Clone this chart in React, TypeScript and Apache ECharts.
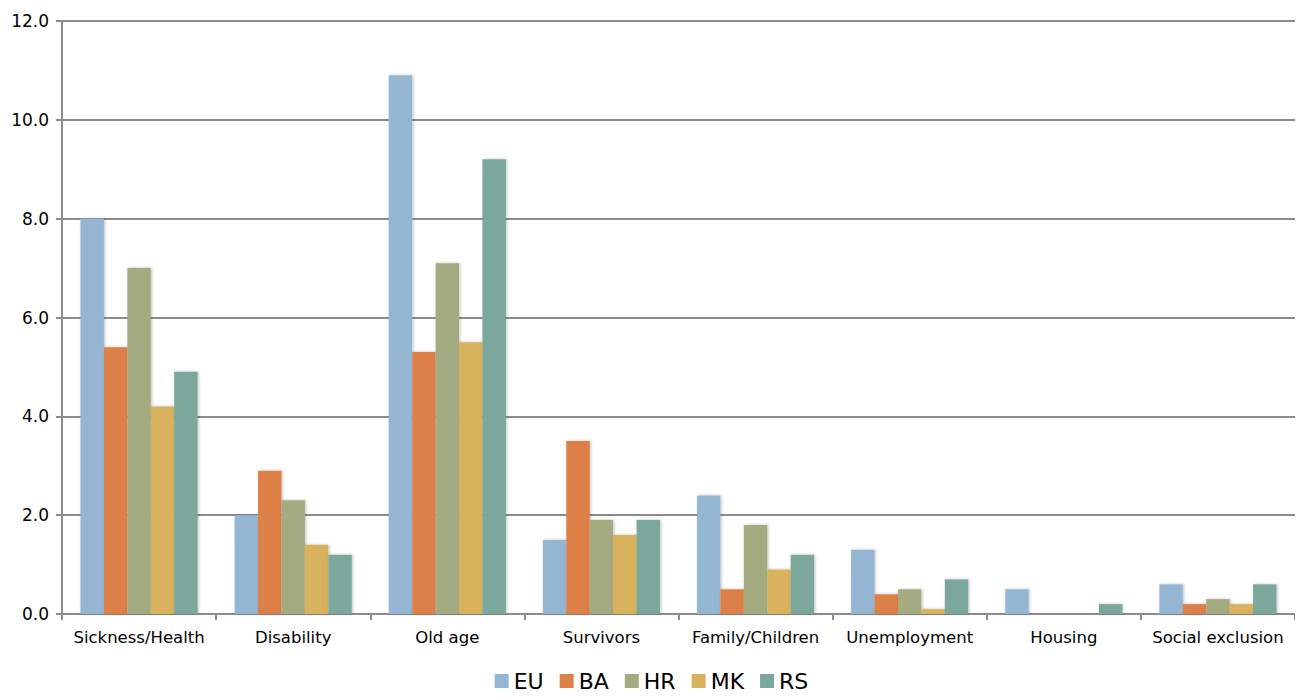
import React, { useEffect, useRef } from "react";
import * as echarts from "echarts";

// Social protection expenditure by function, % of GDP
const categories = [
  "Sickness/Health",
  "Disability",
  "Old age",
  "Survivors",
  "Family/Children",
  "Unemployment",
  "Housing",
  "Social exclusion",
];

const seriesNames = ["EU", "BA", "HR", "MK", "RS"];

const euValues = [8.0, 2.0, 10.9, 1.5, 2.4, 1.3, 0.5, 0.6];
const baValues = [5.4, 2.9, 5.3, 3.5, 0.5, 0.4, 0.0, 0.2];
const hrValues = [7.0, 2.3, 7.1, 1.9, 1.8, 0.5, 0.0, 0.3];
const mkValues = [4.2, 1.4, 5.5, 1.6, 0.9, 0.1, 0.0, 0.2];
const rsValues = [4.9, 1.2, 9.2, 1.9, 1.2, 0.7, 0.2, 0.6];

const colors = ["#94B6D2", "#DD8047", "#A5AB81", "#D8B25C", "#7BA79D"];

const FONT = "'DejaVu Sans', 'Noto Sans', sans-serif";

export default function App() {
  const ref = useRef<HTMLDivElement>(null);

  useEffect(() => {
    if (!ref.current) return;
    const chart = echarts.init(ref.current, undefined, { renderer: "svg" });
    const allValues = [euValues, baValues, hrValues, mkValues, rsValues];

    chart.setOption({
      animation: false,
      color: colors,
      grid: { left: 62, right: 8, top: 21, bottom: 86, containLabel: false },
      legend: {
        bottom: 3,
        left: "center",
        itemWidth: 14,
        itemHeight: 14,
        itemGap: 16,
        icon: "rect",
        textStyle: { fontFamily: FONT, fontSize: 22, color: "#000" },
        data: seriesNames,
      },
      xAxis: {
        type: "category",
        data: categories,
        axisLine: { lineStyle: { color: "#8c8c8c", width: 2 } },
        axisTick: {
          show: true,
          length: 6,
          lineStyle: { color: "#8c8c8c", width: 2 },
        },
        axisLabel: {
          fontFamily: FONT,
          fontSize: 16.5,
          color: "#000",
          margin: 15,
          interval: 0,
        },
      },
      yAxis: {
        type: "value",
        min: 0,
        max: 12,
        interval: 2,
        axisLine: { show: true, lineStyle: { color: "#8c8c8c", width: 2 } },
        axisTick: {
          show: true,
          length: 6,
          lineStyle: { color: "#8c8c8c", width: 2 },
        },
        splitLine: { lineStyle: { color: "#8c8c8c", width: 2 } },
        axisLabel: {
          fontFamily: FONT,
          fontSize: 17,
          color: "#000",
          margin: 13,
          formatter: (v: number) => v.toFixed(1),
        },
      },
      series: seriesNames.map((name, i) => ({
        name,
        type: "bar",
        data: allValues[i],
        barGap: "0%",
        barCategoryGap: "24%",
        itemStyle: {
          shadowBlur: 3,
          shadowColor: "rgba(0,0,0,0.25)",
          shadowOffsetX: 1,
          shadowOffsetY: 0,
        },
      })),
    });

    return () => chart.dispose();
  }, []);

  return <div ref={ref} style={{ width: 1303, height: 700, margin: -8 }} />;
}
